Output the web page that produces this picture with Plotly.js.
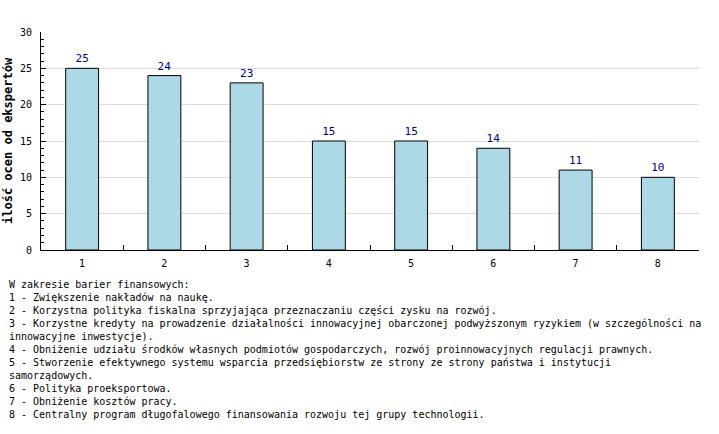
<!DOCTYPE html>
<html>
<head>
<meta charset="utf-8">
<script src="https://cdn.plot.ly/plotly-3.0.1.min.js"></script>
<style>html,body{margin:0;padding:0;background:#fff;}</style>
</head>
<body>
<div id="chart" style="width:719px;height:434px;"></div>
<script>
const categories = ['1', '2', '3', '4', '5', '6', '7', '8'];
const values = [25, 24, 23, 15, 15, 14, 11, 10];
const yTitle = 'ilość ocen od ekspertów';
const noteLines = [
  'W zakresie barier finansowych:',
  '1 - Zwiększenie nakładów na naukę.',
  '2 - Korzystna polityka fiskalna sprzyjająca przeznaczaniu części zysku na rozwój.',
  '3 - Korzystne kredyty na prowadzenie działalności innowacyjnej obarczonej podwyższonym ryzykiem (w szczególności na',
  'innowacyjne inwestycje).',
  '4 - Obniżenie udziału środków własnych podmiotów gospodarczych, rozwój proinnowacyjnych regulacji prawnych.',
  '5 - Stworzenie efektywnego systemu wsparcia przedsiębiorstw ze strony ze strony państwa i instytucji',
  'samorządowych.',
  '6 - Polityka proeksportowa.',
  '7 - Obniżenie kosztów pracy.',
  '8 - Centralny program długofalowego finansowania rozwoju tej grupy technologii.'
];

const FONT = '"DejaVu Sans Mono", "Liberation Mono", monospace';

const trace = {
  type: 'bar',
  x: categories,
  y: values,
  text: values.map(String),
  textposition: 'outside',
  textfont: {family: FONT, size: 11, color: '#00008B'},
  cliponaxis: false,
  marker: {color: '#ADD8E6', line: {color: '#000000', width: 1}},
  width: 0.4,
  hoverinfo: 'none'
};

const layout = {
  width: 719,
  height: 434,
  margin: {l: 41, r: 20, t: 32, b: 184, pad: 0},
  paper_bgcolor: '#ffffff',
  plot_bgcolor: '#ffffff',
  showlegend: false,
  font: {family: FONT, size: 10, color: '#000000'},
  xaxis: {
    type: 'category',
    showline: true, linecolor: '#000000', linewidth: 1,
    ticks: 'inside', ticklen: 5, tickcolor: '#000000', tickson: 'boundaries',
    ticklabelstandoff: 4,
    showgrid: false, zeroline: false,
    tickfont: {family: FONT, size: 10, color: '#000000'},
    fixedrange: true
  },
  yaxis: {
    range: [0, 30],
    dtick: 5,
    showline: true, linecolor: '#000000', linewidth: 1,
    ticks: 'inside', ticklen: 5, tickcolor: '#000000',
    ticklabelstandoff: 6,
    minor: {dtick: 1, ticks: 'inside', ticklen: 3, tickcolor: '#000000', showgrid: false},
    showgrid: true, gridcolor: '#dddddd', gridwidth: 1,
    zeroline: false,
    tickfont: {family: FONT, size: 10, color: '#000000'},
    fixedrange: true
  },
  annotations: [
    {
      text: '<b>' + yTitle + '</b>',
      xref: 'paper', yref: 'paper', x: 0, y: 0.5,
      xshift: -33, textangle: -90, showarrow: false,
      xanchor: 'center', yanchor: 'middle',
      font: {family: FONT, size: 12, color: '#000000'}
    },
    {
      text: noteLines.join('<br>'),
      xref: 'paper', yref: 'paper', x: 0, y: 0,
      xshift: -34, yshift: -27,
      xanchor: 'left', yanchor: 'top', align: 'left', showarrow: false,
      font: {family: FONT, size: 10, color: '#000000'}
    }
  ]
};

Plotly.newPlot('chart', [trace], layout, {staticPlot: true, displayModeBar: false});
</script>
</body>
</html>
